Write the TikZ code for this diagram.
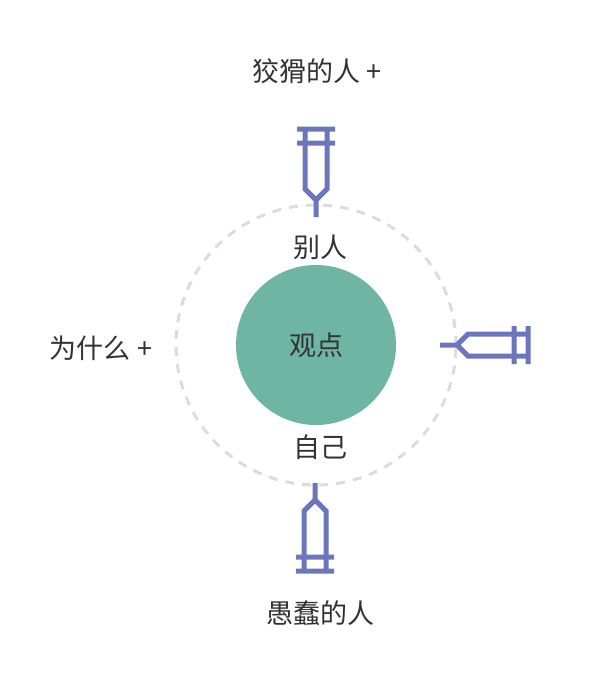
\documentclass[tikz,border=0pt]{standalone}
\usepackage{fontspec}
\setmainfont{Noto Sans CJK SC}
\usetikzlibrary{positioning}
\definecolor{syringeblue}{RGB}{108,118,188}
\definecolor{viewgreen}{RGB}{110,182,163}
\definecolor{ringgray}{RGB}{220,220,220}
\definecolor{inkgray}{RGB}{51,51,51}
\tikzset{
  word/.style={text=inkgray, font=\fontsize{27}{32}\selectfont, inner sep=0pt},
  halo/.style={circle, draw=ringgray, line width=3pt, dash pattern=on 9pt off 8pt, minimum size=280pt},
  syringe/.pic={
    \draw[syringeblue, line width=5pt, line join=miter]
      (-11,-90) -- (-11,-28) -- (0,-17) -- (11,-28) -- (11,-90)
      (0,-17) -- (0,0)
      (-19,-74) -- (19,-74) (-19,-88) -- (19,-88);
  }
}

\begin{document}
\begin{tikzpicture}[x=1pt, y=-1pt]
\useasboundingbox (0,0) rectangle (610,682);
\node[halo] (ring) at (316,345) {};
\node[circle, fill=viewgreen, minimum size=160pt, word] (view) at (316,345) {观点};
\node[word] (others) at (320,247) {别人};
\node[word] (self) at (320,447) {自己};
\node[word] (sly) at (317,71) {狡猾的人 +};
\node[word] (why) at (101,348) {为什么 +};
\node[word] (fool) at (320,613) {愚蠢的人};
\pic at (316,217) {syringe};
\pic[rotate=-90] at (440,345) {syringe};
\pic[rotate=180] at (315,483) {syringe};
\end{tikzpicture}
\end{document}
